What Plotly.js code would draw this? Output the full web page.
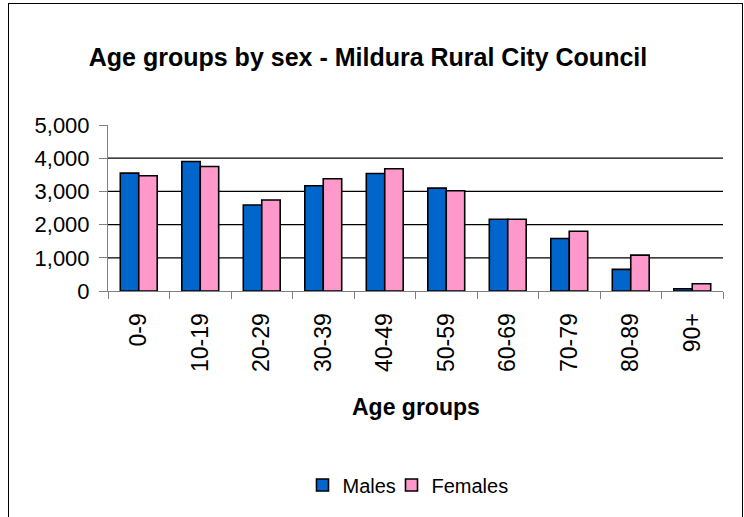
<!DOCTYPE html>
<html>
<head>
<meta charset="utf-8">
<script src="https://cdn.plot.ly/plotly-3.0.1.min.js"></script>
<style>
html,body{margin:0;padding:0;background:#fff;}
#wrap{position:relative;width:744px;height:517px;overflow:hidden;}
#chart{width:744px;height:517px;}
#frame{position:absolute;left:8px;top:3px;width:735px;height:530px;border:1.5px solid #000;pointer-events:none;box-sizing:border-box;}
</style>
</head>
<body>
<div id="wrap"><div id="chart"></div><div id="frame"></div></div>
<script>
const ageGroups = ['0-9','10-19','20-29','30-39','40-49','50-59','60-69','70-79','80-89','90+'];
const males   = [3550, 3900, 2590, 3170, 3540, 3100, 2160, 1580, 650, 70];
const females = [3470, 3750, 2740, 3380, 3680, 3020, 2160, 1800, 1080, 220];
const yTicks = [0, 1000, 2000, 3000, 4000, 5000];
const gridValues = [1000, 2000, 3000, 4000];

const font = 'Liberation Sans, Arial, sans-serif';

const traces = [
  {type:'bar', name:'Males', x:ageGroups, y:males, legend:'legend',
   marker:{color:'#0066CC', line:{color:'#000', width:1.6}}},
  {type:'bar', name:'Females', x:ageGroups, y:females, legend:'legend2',
   marker:{color:'#FF99CC', line:{color:'#000', width:1.6}}}
];

const shapes = gridValues.map(v => ({
  type:'line', xref:'paper', yref:'y', x0:0, x1:1, y0:v, y1:v,
  line:{color:'#000', width:1.2}, layer:'below'
}));

const legendBase = {orientation:'h', xanchor:'left', y:(291-485)/166, yanchor:'middle',
  font:{family:font, size:20, color:'#000'}, itemwidth:30, bgcolor:'rgba(0,0,0,0)'};

const layout = {
  width:744, height:517,
  margin:{l:108, r:21, t:125, b:226},
  paper_bgcolor:'#fff', plot_bgcolor:'#fff',
  font:{family:font, color:'#000', size:18},
  title:{text:'<b>Age groups by sex - Mildura Rural City Council</b>',
         font:{family:font, size:25, color:'#000'},
         x:368/744, xanchor:'center', y:1-57/517, yanchor:'middle', xref:'container', yref:'container'},
  barmode:'group', bargap:0.4, bargroupgap:0,
  showlegend:true,
  legend:Object.assign({}, legendBase, {x:(302.5-108)/615}),
  legend2:Object.assign({}, legendBase, {x:(391.5-108)/615}),
  xaxis:{type:'category', tickangle:-90, ticks:'outside', tickson:'boundaries', ticklen:7,
         tickcolor:'#808080', tickwidth:1, showline:true, linecolor:'#808080', linewidth:1,
         showgrid:false, ticklabelstandoff:12,
         tickfont:{family:font, size:23, color:'#000'}, fixedrange:true},
  yaxis:{range:[0,5000], tickvals:yTicks, tickformat:',', ticks:'outside', ticklen:8,
         tickcolor:'#808080', tickwidth:1, showline:true, linecolor:'#808080', linewidth:1,
         showgrid:false, zeroline:false, ticklabelstandoff:5,
         tickfont:{family:font, size:22, color:'#000'}, fixedrange:true},
  shapes:shapes,
  annotations:[{text:'<b>Age groups</b>', xref:'paper', yref:'paper', x:0.5, y:(291-407)/166,
                xanchor:'center', yanchor:'middle', showarrow:false,
                font:{family:font, size:23, color:'#000'}}]
};

Plotly.newPlot('chart', traces, layout, {displayModeBar:false, staticPlot:true});
</script>
</body>
</html>
